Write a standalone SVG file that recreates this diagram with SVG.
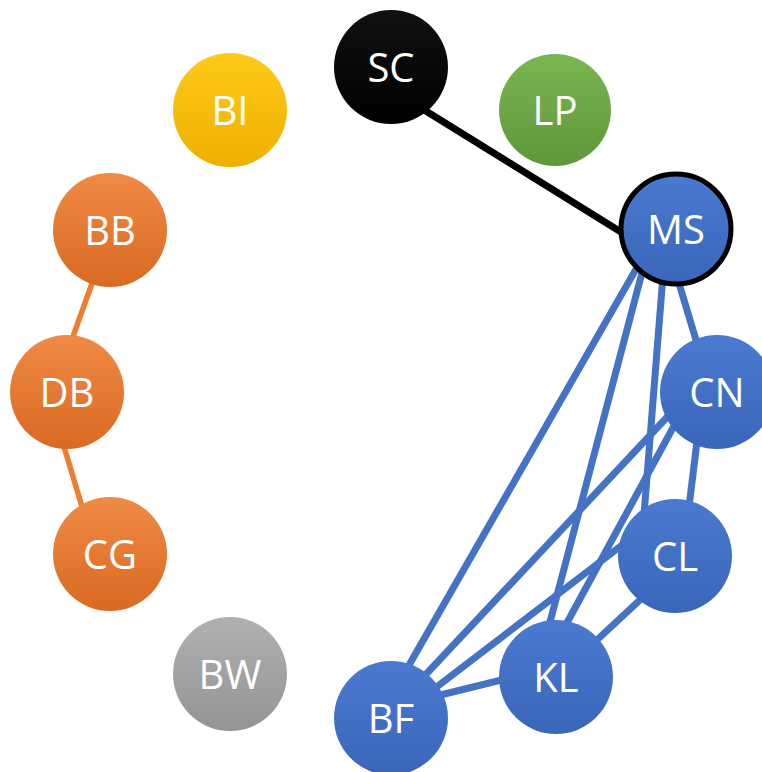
<svg xmlns="http://www.w3.org/2000/svg" width="762" height="772" viewBox="0 0 762 772">
<defs>
<linearGradient id="gBlue" x1="0" y1="0" x2="0" y2="1"><stop offset="0" stop-color="#4A7AD0"/><stop offset="1" stop-color="#3A66BA"/></linearGradient>
<linearGradient id="gOrange" x1="0" y1="0" x2="0" y2="1"><stop offset="0" stop-color="#F08A45"/><stop offset="1" stop-color="#D96A22"/></linearGradient>
<linearGradient id="gYellow" x1="0" y1="0" x2="0" y2="1"><stop offset="0" stop-color="#FFCA1A"/><stop offset="1" stop-color="#EDB000"/></linearGradient>
<linearGradient id="gGreen" x1="0" y1="0" x2="0" y2="1"><stop offset="0" stop-color="#7AB652"/><stop offset="1" stop-color="#5F973A"/></linearGradient>
<linearGradient id="gGray" x1="0" y1="0" x2="0" y2="1"><stop offset="0" stop-color="#B0B0B0"/><stop offset="1" stop-color="#949494"/></linearGradient>
<linearGradient id="gBlack" x1="0" y1="0" x2="0" y2="1"><stop offset="0" stop-color="#111111"/><stop offset="1" stop-color="#000000"/></linearGradient>
</defs>
<style>
.lbl{font-family:"Open Sans","Noto Sans","Liberation Sans",sans-serif;font-size:40px;fill:#fff;text-anchor:middle;dominant-baseline:central}
.eb{stroke:#4472C4;stroke-width:7;fill:none}
.eo{stroke:#ED7D31;stroke-width:5.5;fill:none}
.ek{stroke:#000;stroke-width:7;fill:none}
</style>
<g id="connectors">
<line class="ek" x1="400" y1="95" x2="650" y2="250"/>
<line class="eo" x1="104" y1="250" x2="61" y2="370"/>
<line class="eo" x1="56" y1="420" x2="89" y2="530"/>
<line class="eb" x1="647" y1="250" x2="389" y2="700"/>
<line class="eb" x1="648" y1="250" x2="540" y2="660"/>
<line class="eb" x1="665" y1="250" x2="642" y2="540"/>
<line class="eb" x1="672" y1="260" x2="708" y2="380"/>
<line class="eb" x1="700" y1="382" x2="400" y2="702"/>
<line class="eb" x1="700" y1="378" x2="550" y2="654"/>
<line class="eb" x1="660" y1="516" x2="400" y2="715"/>
<line class="eb" x1="670" y1="572" x2="570" y2="665"/>
<line class="eb" x1="702" y1="400" x2="685" y2="540"/>
<line class="eb" x1="550" y1="668" x2="400" y2="705"/>
</g>
<g id="SC"><circle cx="391" cy="67" r="57" fill="url(#gBlack)"/><text class="lbl" x="391" y="66">SC</text></g>
<g id="LP"><circle cx="555" cy="110" r="56" fill="url(#gGreen)"/><text class="lbl" x="555" y="109">LP</text></g>
<g id="MS"><circle cx="676" cy="229" r="55" fill="url(#gBlue)" stroke="#000" stroke-width="5"/><text class="lbl" x="676" y="228">MS</text></g>
<g id="CN"><circle cx="717" cy="392" r="57" fill="url(#gBlue)"/><text class="lbl" x="717" y="391">CN</text></g>
<g id="CL"><circle cx="675" cy="556" r="57" fill="url(#gBlue)"/><text class="lbl" x="675" y="555">CL</text></g>
<g id="KL"><circle cx="556" cy="677" r="57" fill="url(#gBlue)"/><text class="lbl" x="556" y="676">KL</text></g>
<g id="BF"><circle cx="391" cy="718" r="57" fill="url(#gBlue)"/><text class="lbl" x="391" y="717">BF</text></g>
<g id="BW"><circle cx="230" cy="674" r="57" fill="url(#gGray)"/><text class="lbl" x="230" y="673">BW</text></g>
<g id="CG"><circle cx="110" cy="554" r="57" fill="url(#gOrange)"/><text class="lbl" x="110" y="553">CG</text></g>
<g id="DB"><circle cx="67" cy="392" r="57" fill="url(#gOrange)"/><text class="lbl" x="67" y="391">DB</text></g>
<g id="BB"><circle cx="110" cy="230" r="57" fill="url(#gOrange)"/><text class="lbl" x="110" y="229">BB</text></g>
<g id="BI"><circle cx="230" cy="110" r="57" fill="url(#gYellow)"/><text class="lbl" x="230" y="109">BI</text></g>
</svg>
